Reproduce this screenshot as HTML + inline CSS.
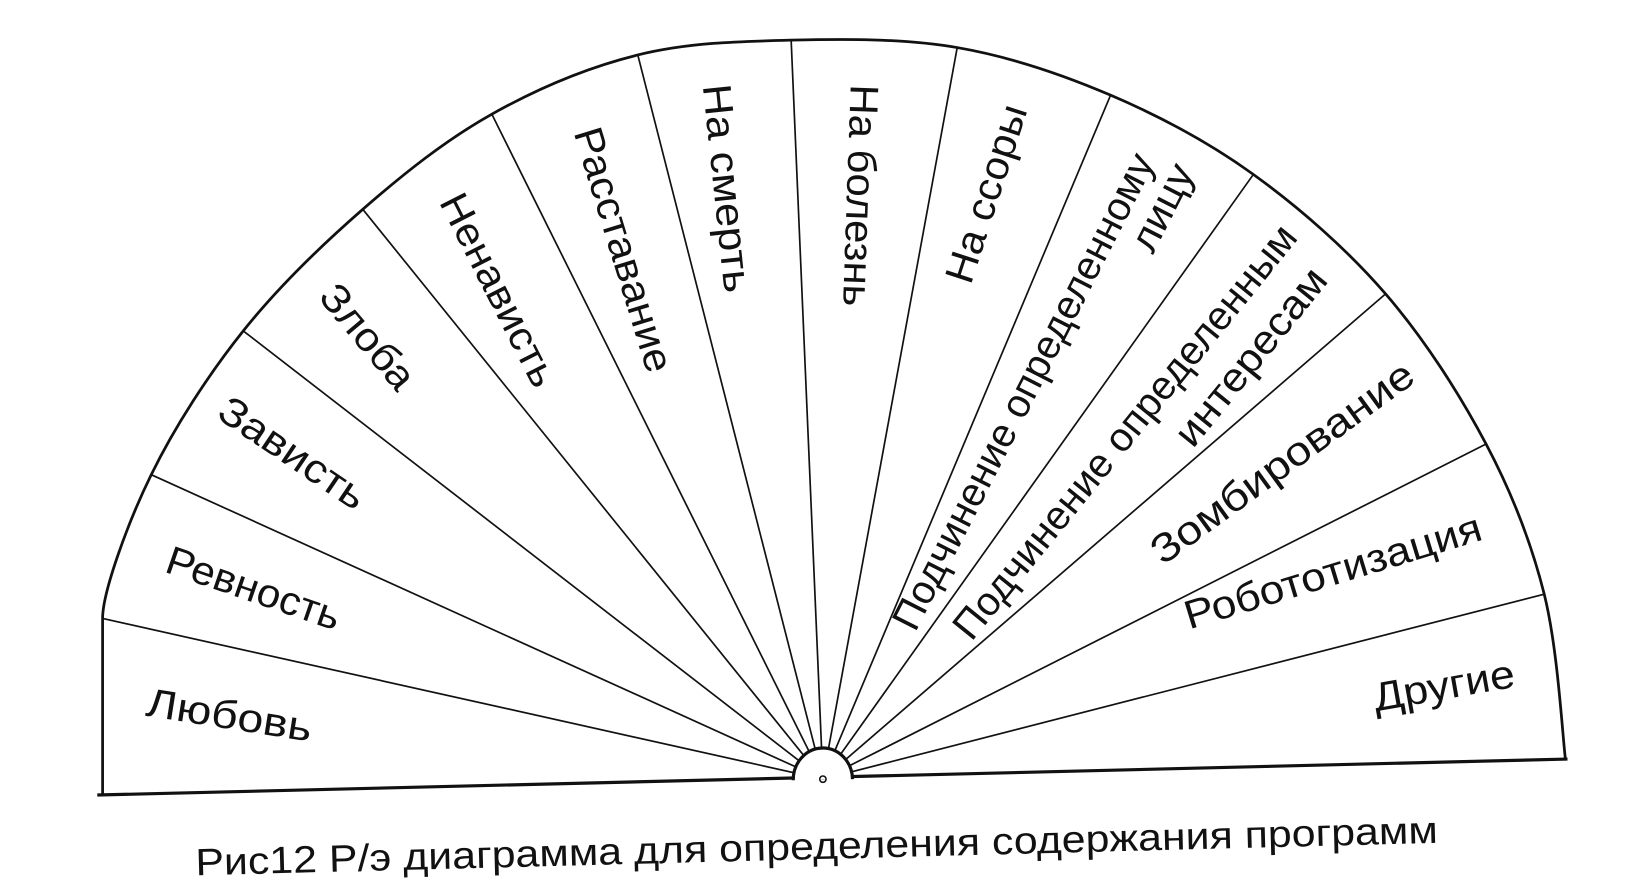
<!DOCTYPE html>
<html><head><meta charset="utf-8"><style>
html,body{margin:0;padding:0;background:#fff;width:1650px;height:887px;overflow:hidden}
svg{display:block}
text{font-family:"Liberation Sans","DejaVu Sans",sans-serif;font-size:38px;fill:#111}
</style></head><body>
<svg width="1650" height="887" viewBox="0 0 1560 839" preserveAspectRatio="none">
<g stroke="#111" fill="none">
<path d="M97,752 L97,585 C97,560 120.8,494.3 143,449 C165.2,403.7 196.7,354.8 230,313 C263.3,271.2 303.8,232.2 343,198 C382.2,163.8 421.7,132.3 465,108 C508.3,83.7 555.8,63.7 603,52 C650.2,40.3 697.7,39.2 748,38 C798.3,36.8 854.7,36.3 905,45 C955.3,53.7 1003.3,70 1050,90 C1096.7,110 1141.7,133.7 1185,165 C1228.3,196.3 1273.3,235.5 1310,278 C1346.7,320.5 1380,372.7 1405,420 C1430,467.3 1447.5,512.3 1460,562 C1472.5,611.7 1477,692 1480,718" stroke-width="2.6"/>
<line x1="92" y1="752" x2="1482" y2="718" stroke-width="3"/>
<g stroke-width="1.6">
<line x1="778" y1="737" x2="97" y2="585"/>
<line x1="778" y1="737" x2="143" y2="449"/>
<line x1="778" y1="737" x2="230" y2="313"/>
<line x1="778" y1="737" x2="343" y2="198"/>
<line x1="778" y1="737" x2="465" y2="108"/>
<line x1="778" y1="737" x2="603" y2="52"/>
<line x1="778" y1="737" x2="748" y2="38"/>
<line x1="778" y1="737" x2="905" y2="45"/>
<line x1="778" y1="737" x2="1050" y2="90"/>
<line x1="778" y1="737" x2="1185" y2="165"/>
<line x1="778" y1="737" x2="1310" y2="278"/>
<line x1="778" y1="737" x2="1405" y2="420"/>
<line x1="778" y1="737" x2="1460" y2="562"/>
</g>
<path d="M750,738 A28,30 0 0 1 806,737" stroke-width="3" fill="#fff"/>
<circle cx="778" cy="737" r="3" stroke-width="1.5"/>
</g>
<g text-anchor="middle">
<text transform="translate(217,676) rotate(9)" dy="0.35em" textLength="158" lengthAdjust="spacingAndGlyphs">Любовь</text>
<text transform="translate(240,556) rotate(19)" dy="0.35em" textLength="172" lengthAdjust="spacingAndGlyphs">Ревность</text>
<text transform="translate(277,428) rotate(34)" dy="0.35em" textLength="160" lengthAdjust="spacingAndGlyphs">Зависть</text>
<text transform="translate(348,318) rotate(50)" dy="0.35em" textLength="118" lengthAdjust="spacingAndGlyphs">Злоба</text>
<text transform="translate(472,274) rotate(63)" dy="0.35em" textLength="200" lengthAdjust="spacingAndGlyphs">Ненависть</text>
<text transform="translate(590,236) rotate(73)" dy="0.35em" textLength="240" lengthAdjust="spacingAndGlyphs">Расставание</text>
<text transform="translate(688,178) rotate(84)" dy="0.35em" textLength="198" lengthAdjust="spacingAndGlyphs">На смерть</text>
<text transform="translate(814,185) rotate(92)" dy="0.35em" textLength="210" lengthAdjust="spacingAndGlyphs">На болезнь</text>
<text transform="translate(932,183) rotate(-72)" dy="0.35em" textLength="175" lengthAdjust="spacingAndGlyphs">На ссоры</text>
<text transform="translate(967,370) rotate(-63)" dy="0.35em" textLength="500" lengthAdjust="spacingAndGlyphs">Подчинение определенному</text>
<text transform="translate(1098,196) rotate(-63)" dy="0.35em" textLength="88" lengthAdjust="spacingAndGlyphs">лицу</text>
<text transform="translate(1063,408) rotate(-51)" dy="0.35em" textLength="492" lengthAdjust="spacingAndGlyphs">Подчинение определенным</text>
<text transform="translate(1182,337) rotate(-51)" dy="0.35em" textLength="205" lengthAdjust="spacingAndGlyphs">интересам</text>
<text transform="translate(1212,437) rotate(-36)" dy="0.35em" textLength="298" lengthAdjust="spacingAndGlyphs">Зомбирование</text>
<text transform="translate(1260,540) rotate(-17)" dy="0.35em" textLength="292" lengthAdjust="spacingAndGlyphs">Робототизация</text>
<text transform="translate(1365,648) rotate(-10)" dy="0.35em" textLength="135" lengthAdjust="spacingAndGlyphs">Другие</text>
<text transform="translate(772,800) rotate(-1.5)" dy="0.35em" style="font-size:36px" textLength="1175" lengthAdjust="spacingAndGlyphs">Рис12 Р/э диаграмма для определения содержания программ</text>
</g>
</svg>
</body></html>
